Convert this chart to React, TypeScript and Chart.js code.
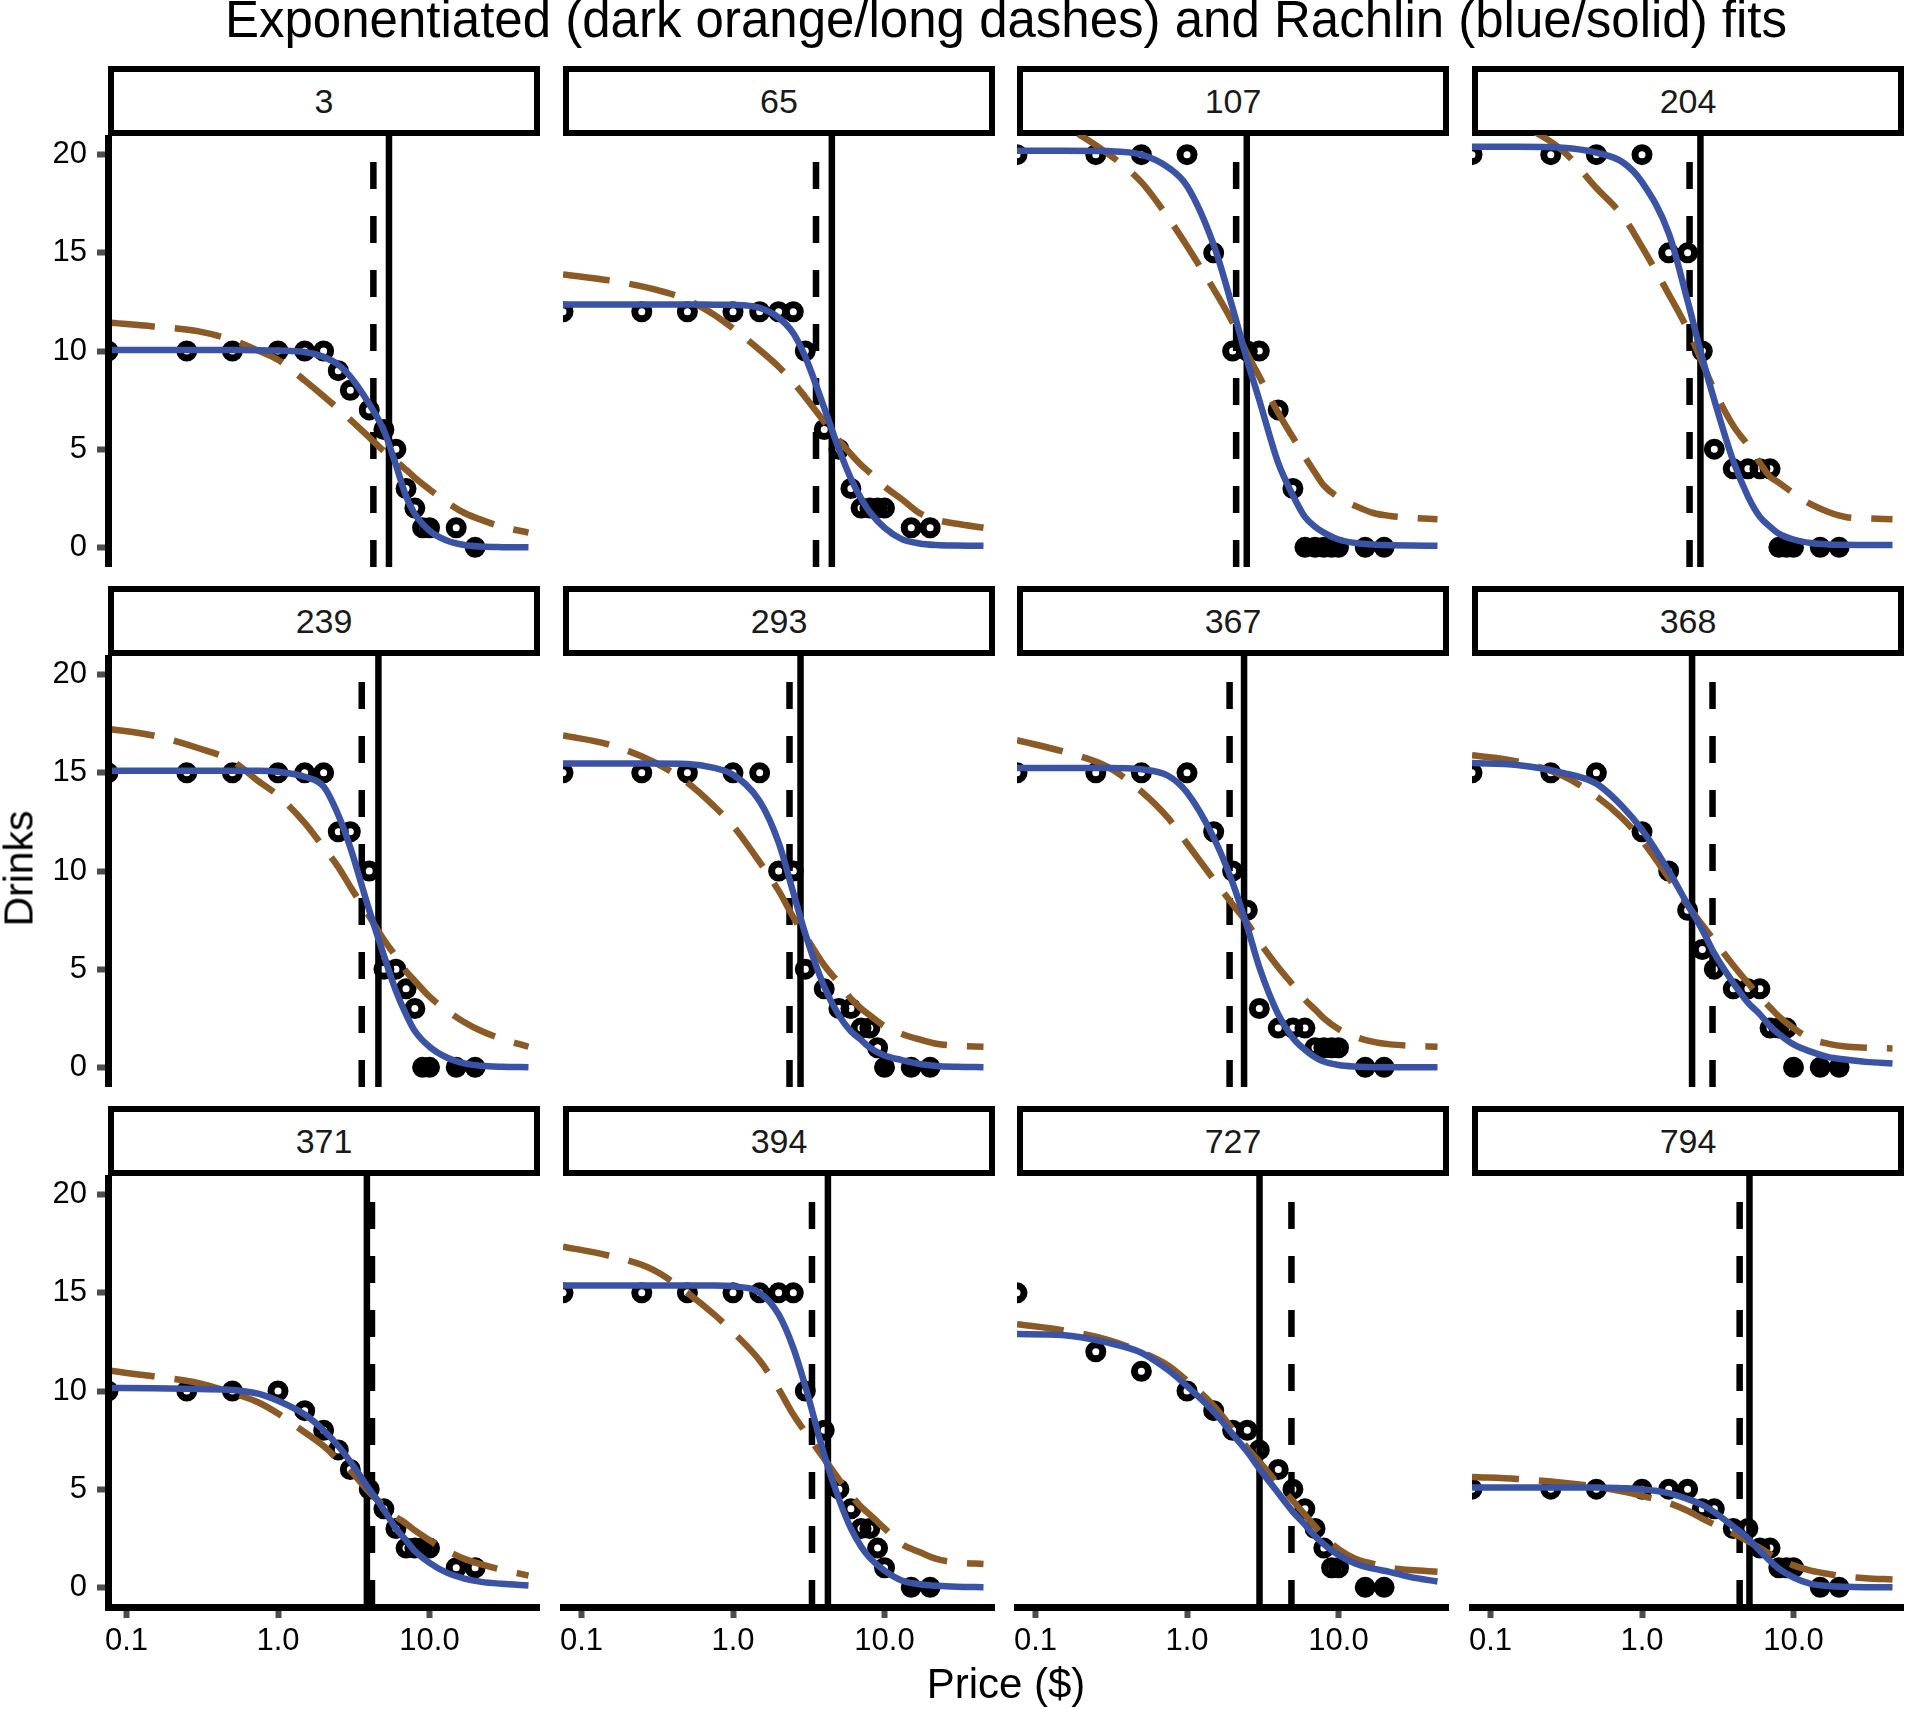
import { useEffect, useRef } from "react";
import { Chart, registerables } from "chart.js";

Chart.register(...registerables);
Chart.defaults.font.family = "'Liberation Sans', Arial, sans-serif";

// ── Data ───────────────────────────────────────────────────────────────────
const PANEL_IDS = ["3", "65", "107", "204", "239", "293", "367", "368", "371", "394", "727", "794"];

// prices of the purchase task ($); price 0 sits on the left edge (log scale)
const PRICES = [0, 0.25, 0.5, 1, 1.5, 2, 2.5, 3, 4, 5, 6, 7, 8, 9, 10, 15, 20];

// drinks bought at each price, one row per panel
const DRINKS = [
  [10, 10, 10, 10, 10, 10, 9, 8, 7, 6, 5, 3, 2, 1, 1, 1, 0],
  [12, 12, 12, 12, 12, 12, 12, 10, 6, 5, 3, 2, 2, 2, 2, 1, 1],
  [20, 20, 20, 20, 15, 10, 10, 10, 7, 3, 0, 0, 0, 0, 0, 0, 0],
  [20, 20, 20, 20, 15, 15, 10, 5, 4, 4, 4, 4, 0, 0, 0, 0, 0],
  [15, 15, 15, 15, 15, 15, 12, 12, 10, 5, 5, 4, 3, 0, 0, 0, 0],
  [15, 15, 15, 15, 15, 10, 10, 5, 4, 3, 3, 2, 2, 1, 0, 0, 0],
  [15, 15, 15, 15, 12, 10, 8, 3, 2, 2, 2, 1, 1, 1, 1, 0, 0],
  [15, 15, 15, 12, 10, 8, 6, 5, 4, 4, 4, 2, 2, 2, 0, 0, 0],
  [10, 10, 10, 10, 9, 8, 7, 6, 5, 4, 3, 2, 2, 2, 2, 1, 1],
  [15, 15, 15, 15, 15, 15, 15, 10, 8, 5, 4, 3, 3, 2, 1, 0, 0],
  [15, 12, 11, 10, 9, 8, 8, 7, 6, 5, 4, 3, 2, 1, 1, 0, 0],
  [5, 5, 5, 5, 5, 5, 4, 4, 3, 3, 2, 2, 1, 1, 1, 0, 0],
];

const CURVE_PRICES = [0, 0.15, 0.3, 0.5, 0.75, 1, 1.5, 2, 2.5, 3, 4, 5, 6, 7, 8, 10, 13, 17, 22, 30, 45];

// Rachlin fit (blue / solid)
const RACHLIN_FIT = [
  [10.05, 10.05, 10.05, 10.05, 10.04, 10.02, 9.95, 9.7, 9.3, 8.7, 7.3, 5.95, 4.2, 2.6, 1.7, 0.85, 0.35, 0.12, 0.04, 0.01, 0],
  [12.37, 12.37, 12.37, 12.37, 12.36, 12.35, 12.2, 11.7, 10.9, 9.7, 7.1, 5.0, 3.5, 2.5, 1.8, 1.0, 0.42, 0.2, 0.12, 0.09, 0.08],
  [20.2, 20.2, 20.18, 20.0, 19.35, 18.4, 15.4, 12.2, 9.5, 7.5, 4.3, 2.65, 1.55, 1.05, 0.75, 0.4, 0.22, 0.14, 0.11, 0.09, 0.08],
  [20.4, 20.4, 20.35, 20.1, 19.6, 18.6, 16.0, 12.55, 9.65, 7.5, 4.4, 2.6, 1.55, 1.05, 0.7, 0.4, 0.22, 0.15, 0.13, 0.12, 0.12],
  [15.1, 15.1, 15.1, 15.1, 15.1, 15.05, 14.8, 14.3, 12.85, 11.2, 8.0, 5.7, 3.9, 2.7, 1.85, 1.05, 0.5, 0.2, 0.08, 0.03, 0.01],
  [15.47, 15.47, 15.47, 15.45, 15.25, 14.9, 13.55, 11.45, 8.9, 6.8, 4.1, 2.65, 1.84, 1.4, 1.0, 0.6, 0.37, 0.17, 0.07, 0.03, 0.01],
  [15.25, 15.25, 15.25, 15.18, 14.85, 14.0, 11.7, 9.4, 7.15, 5.1, 2.7, 1.5, 0.9, 0.52, 0.3, 0.12, 0.04, 0.01, 0, 0, 0],
  [15.5, 15.4, 15.0, 14.45, 13.25, 12.1, 10.0, 8.3, 7.0, 5.8, 4.3, 3.3, 2.7, 2.1, 1.7, 1.17, 0.8, 0.52, 0.4, 0.28, 0.2],
  [10.15, 10.14, 10.1, 10.05, 9.85, 9.5, 8.8, 8.0, 7.2, 6.4, 5.0, 3.95, 3.0, 2.4, 1.85, 1.25, 0.75, 0.45, 0.28, 0.18, 0.1],
  [15.37, 15.37, 15.37, 15.37, 15.37, 15.33, 15.0, 13.9, 12.2, 10.25, 6.75, 4.5, 3.0, 2.08, 1.5, 0.85, 0.35, 0.16, 0.08, 0.03, 0.01],
  [12.9, 12.85, 12.46, 11.95, 11.07, 10.25, 8.95, 7.8, 6.9, 6.05, 4.8, 3.85, 3.2, 2.6, 2.2, 1.65, 1.2, 0.95, 0.78, 0.52, 0.3],
  [5.09, 5.09, 5.09, 5.08, 5.05, 5.0, 4.8, 4.5, 4.2, 3.83, 3.1, 2.5, 1.85, 1.35, 0.95, 0.5, 0.18, 0.07, 0.03, 0.01, 0],
];

// exponentiated fit (dark orange / long dashes)
const EXPO_FIT = [
  [11.45, 11.25, 11.0, 10.55, 10.0, 9.55, 8.5, 7.7, 7.05, 6.5, 5.6, 4.9, 4.4, 3.95, 3.55, 2.95, 2.3, 1.75, 1.4, 1.05, 0.75],
  [13.9, 13.6, 13.15, 12.6, 11.85, 11.15, 10.05, 9.2, 8.4, 7.65, 6.4, 5.45, 4.75, 4.2, 3.8, 3.1, 2.45, 1.75, 1.4, 1.2, 1.0],
  [22.4, 21.5, 20.05, 18.6, 16.8, 15.35, 13.15, 11.45, 9.85, 8.7, 6.85, 5.6, 4.6, 3.8, 3.15, 2.55, 2.1, 1.75, 1.6, 1.5, 1.43],
  [22.5, 21.6, 20.2, 18.3, 16.85, 15.3, 12.9, 11.1, 9.4, 8.0, 6.2, 5.2, 4.3, 3.6, 3.3, 2.75, 2.2, 1.8, 1.55, 1.48, 1.43],
  [17.25, 16.9, 16.25, 15.6, 14.55, 13.85, 12.45, 11.2, 10.2, 9.2, 7.7, 6.5, 5.65, 4.9, 4.4, 3.6, 2.9, 2.3, 1.85, 1.45, 1.05],
  [16.9, 16.45, 15.55, 14.5, 13.3, 12.3, 10.45, 9.0, 7.65, 6.7, 5.2, 4.3, 3.5, 3.0, 2.65, 2.1, 1.7, 1.42, 1.2, 1.1, 1.05],
  [16.66, 16.1, 15.3, 14.05, 12.7, 11.4, 9.57, 8.3, 7.35, 6.4, 5.1, 4.2, 3.45, 2.95, 2.5, 1.95, 1.55, 1.3, 1.17, 1.1, 1.05],
  [15.9, 15.58, 14.85, 13.8, 12.65, 11.55, 9.65, 8.25, 7.25, 6.45, 5.2, 4.3, 3.6, 3.05, 2.6, 2.0, 1.45, 1.2, 1.06, 1.0, 0.96],
  [11.04, 10.75, 10.4, 9.9, 9.4, 8.85, 7.9, 7.2, 6.5, 5.95, 4.85, 4.15, 3.6, 3.25, 2.9, 2.4, 1.88, 1.45, 1.17, 0.9, 0.6],
  [17.35, 16.9, 16.16, 15.0, 13.9, 13.0, 11.55, 10.1, 8.8, 7.9, 6.55, 5.5, 4.7, 4.1, 3.7, 3.0, 2.2, 1.8, 1.45, 1.27, 1.19],
  [13.4, 13.1, 12.6, 11.98, 11.3, 10.52, 9.25, 8.06, 7.1, 6.4, 5.25, 4.4, 3.7, 3.1, 2.6, 1.95, 1.45, 1.2, 1.0, 0.88, 0.8],
  [5.62, 5.52, 5.33, 5.12, 4.88, 4.66, 4.3, 3.9, 3.5, 3.2, 2.75, 2.35, 2.0, 1.7, 1.45, 1.12, 0.85, 0.68, 0.55, 0.47, 0.4],
];

// Pmax of each fit (vertical lines)
const PMAX_EXPO = [4.26, 3.53, 2.11, 2.06, 3.57, 2.36, 1.91, 2.92, 4.17, 3.32, 4.89, 4.41];
const PMAX_RACHLIN = [5.4, 4.49, 2.48, 2.43, 4.6, 2.79, 2.38, 2.14, 3.86, 4.23, 3.01, 5.12];

const X_MIN = 0.0755;
const X_MAX = 53.6;
const X_TICKS = [0.1, 1, 10];
const X_TICK_LABELS = ["0.1", "1.0", "10.0"];
const Y_MIN = -1;
const Y_MAX = 21;
const Y_TICKS = [0, 5, 10, 15, 20];

// ── Look ───────────────────────────────────────────────────────────────────
const BLUE = "#3a53a4";
const ORANGE = "#8c5a24";
const FONT = "'Liberation Sans', Arial, sans-serif";

const COL_X = [108, 563, 1017, 1472];
const ROW_Y = [135, 655, 1175];
const PANEL_W = 432;
const PANEL_H = 432;
const STRIP_H = 70;
const Y_AXIS_W = 100;
const X_AXIS_H = 80;
const LABEL_ROOM = 20; // room left of bottom-row panels for the "0.1" label

// ── Panel ──────────────────────────────────────────────────────────────────
function Panel({ index }: { index: number }) {
  const canvasRef = useRef<HTMLCanvasElement>(null);
  const row = Math.floor(index / 4);
  const col = index % 4;
  const showY = col === 0;
  const showX = row === 2;
  const extraL = !showY && showX ? LABEL_ROOM : 0;
  const padL = showY ? Y_AXIS_W : extraL;
  const padB = showX ? X_AXIS_H : 0;
  const w = PANEL_W + padL;
  const h = PANEL_H + padB;

  useEffect(() => {
    if (!canvasRef.current) return;
    const atEdge = (p: number) => (p === 0 ? X_MIN : p);
    const tickGrid = {
      display: true,
      drawOnChartArea: false,
      drawTicks: true,
      tickLength: 11,
      tickWidth: 6,
      tickColor: "#4d4d4d",
    };
    // the panel keeps its size: no room is taken for the end labels
    const noPadding = (s: any) => {
      s.paddingTop = 0;
      s.paddingBottom = 0;
      s.paddingLeft = 0;
      s.paddingRight = 0;
    };

    const chart = new Chart(canvasRef.current, {
      type: "line",
      data: {
        datasets: [
          {
            data: CURVE_PRICES.map((p, i) => ({ x: atEdge(p), y: RACHLIN_FIT[index][i] })),
            borderColor: BLUE,
            borderWidth: 6.5,
            pointRadius: 0,
            cubicInterpolationMode: "monotone",
            clip: 0,
          },
          {
            data: CURVE_PRICES.map((p, i) => ({ x: atEdge(p), y: EXPO_FIT[index][i] })),
            borderColor: ORANGE,
            borderWidth: 6.5,
            borderDash: [47, 20],
            pointRadius: 0,
            cubicInterpolationMode: "monotone",
            clip: 0,
          },
          {
            data: PRICES.map((p, i) => ({ x: atEdge(p), y: DRINKS[index][i] })),
            showLine: false,
            pointRadius: 7,
            pointBorderWidth: 7,
            pointBorderColor: "#000",
            pointBackgroundColor: DRINKS[index].map((v) => (v === 0 ? "#000" : "rgba(0,0,0,0)")),
            clip: 0,
          },
          {
            data: [{ x: PMAX_RACHLIN[index], y: Y_MIN }, { x: PMAX_RACHLIN[index], y: Y_MAX }],
            borderColor: "#000",
            borderWidth: 6.5,
            pointRadius: 0,
            clip: 0,
          },
          {
            data: [{ x: PMAX_EXPO[index], y: Y_MIN }, { x: PMAX_EXPO[index], y: Y_MAX }],
            borderColor: "#000",
            borderWidth: 6.5,
            borderDash: [27, 27],
            pointRadius: 0,
            clip: 0,
          },
        ],
      },
      options: {
        animation: false,
        responsive: false,
        devicePixelRatio: 1,
        events: [],
        layout: { padding: { left: extraL, top: 0, right: 0, bottom: 0 }, autoPadding: false },
        plugins: { legend: { display: false }, tooltip: { enabled: false } },
        scales: {
          x: {
            type: "logarithmic",
            min: X_MIN,
            max: X_MAX,
            display: showX,
            afterBuildTicks: (s: any) => { s.ticks = X_TICKS.map((v) => ({ value: v })); },
            afterFit: (s: any) => { s.height = showX ? X_AXIS_H : 0; noPadding(s); },
            ticks: {
              autoSkip: false,
              maxRotation: 0,
              padding: 5,
              color: "#000",
              font: { size: 31, family: FONT },
              callback: (_v: any, i: number) => X_TICK_LABELS[i],
            },
            grid: tickGrid,
            border: { display: true, width: 7, color: "#000", z: 1 },
          },
          y: {
            type: "linear",
            min: Y_MIN,
            max: Y_MAX,
            display: showY,
            afterBuildTicks: (s: any) => { s.ticks = Y_TICKS.map((v) => ({ value: v })); },
            afterFit: (s: any) => { s.width = showY ? Y_AXIS_W : 0; noPadding(s); },
            ticks: { padding: 10, color: "#000", font: { size: 31, family: FONT } },
            grid: tickGrid,
            border: { display: true, width: 7, color: "#000", z: 1 },
          },
        },
      },
    } as any);

    return () => { chart.destroy(); };
  }, [index]);

  return (
    <>
      {/* Strip */}
      <div style={{
        position: "absolute",
        left: COL_X[col],
        top: ROW_Y[row] - STRIP_H + 1,
        width: PANEL_W,
        height: STRIP_H,
        boxSizing: "border-box",
        border: "6px solid #000",
        background: "#fff",
        display: "flex",
        alignItems: "center",
        justifyContent: "center",
        fontSize: 34,
        color: "#1a1a1a",
      }}>
        {PANEL_IDS[index]}
      </div>
      <canvas
        ref={canvasRef}
        width={w}
        height={h}
        style={{ position: "absolute", left: COL_X[col] - padL, top: ROW_Y[row], width: w, height: h }}
      />
    </>
  );
}

// ── Page ───────────────────────────────────────────────────────────────────
export default function App() {
  return (
    <div style={{
      position: "absolute",
      left: 0,
      top: 0,
      width: 1906,
      height: 1709,
      background: "#fff",
      overflow: "hidden",
      fontFamily: FONT,
    }}>
      <div style={{
        position: "absolute", left: 108, top: -5, width: 1796,
        textAlign: "center", fontSize: 51, lineHeight: "49px", color: "#000", whiteSpace: "nowrap",
      }}>
        Exponentiated (dark orange/long dashes) and Rachlin (blue/solid) fits
      </div>

      {PANEL_IDS.map((id, i) => <Panel key={id} index={i} />)}

      <div style={{
        position: "absolute", left: -131, top: 848, width: 300, height: 41,
        textAlign: "center", fontSize: 41, lineHeight: "41px", color: "#000",
        transform: "rotate(-90deg)",
      }}>
        Drinks
      </div>

      <div style={{
        position: "absolute", left: 806, top: 1663, width: 400,
        textAlign: "center", fontSize: 42, lineHeight: "41px", color: "#000",
      }}>
        Price ($)
      </div>
    </div>
  );
}
